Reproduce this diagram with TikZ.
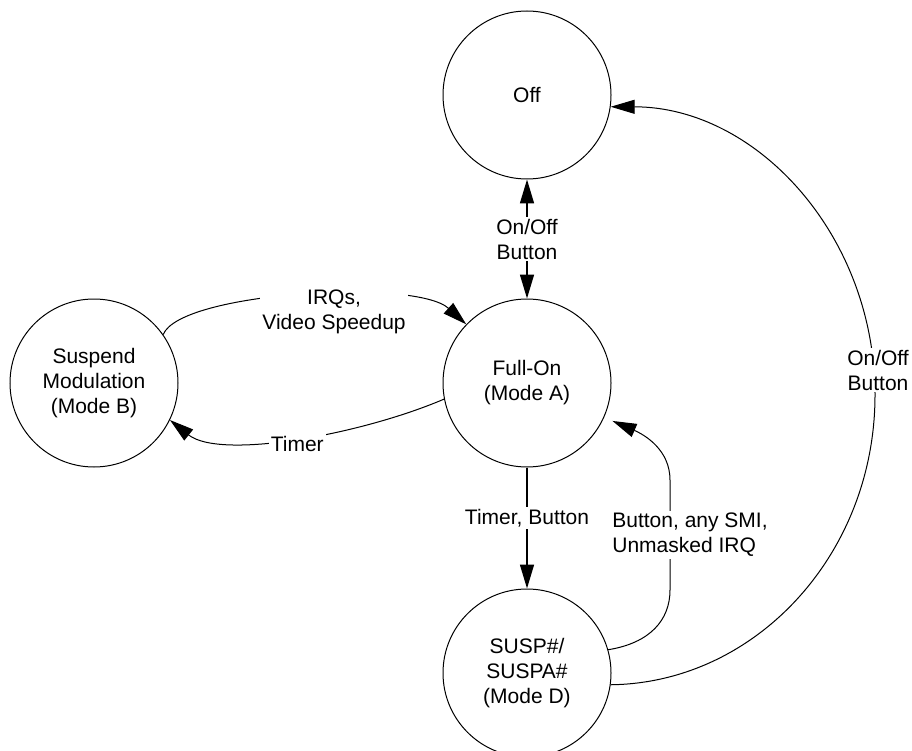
\documentclass[tikz,border=0pt]{standalone}
\usepackage{fontspec}
\setmainfont{Liberation Sans}
\usetikzlibrary{positioning, arrows.meta}

\begin{document}
\begin{tikzpicture}[x=1pt, y=-1pt, >={Triangle[length=24pt, width=14pt]}, line width=1pt,
    mode/.style={draw, circle, minimum size=168pt, inner sep=0pt, align=center, font=\fontsize{21}{25}\selectfont},
    lbl/.style={fill=white, inner sep=2pt, align=center, font=\fontsize{21}{25}\selectfont}]
        \useasboundingbox (0,0) rectangle (912,751);

        \node[mode] (off) at (527,95) {Off};
        \node[mode] (fo) [below=119pt of off] {Full-On\\(Mode A)};
        \node[mode] (sm) [left=264pt of fo] {Suspend\\Modulation\\(Mode B)};
        \node[mode] (su) [below=121pt of fo] {SUSP\#/\\SUSPA\#\\(Mode D)};

        \draw[<->, line width=1.6pt] (off) -- node[lbl] {On/Off\\Button} (fo);
        \draw[->, line width=1.6pt] (fo) -- node[lbl, pos=0.42] {Timer, Button} (su);

        \draw[->] (sm.35) .. controls (180,292) and (415,278) .. node[lbl, pos=0.55, xshift=12pt, yshift=-16pt] {IRQs,\\Video Speedup} (fo.136);
        \draw[->] (fo.191) .. controls (360,435) and (220,460) .. node[lbl, pos=0.5, xshift=3pt, yshift=-6pt] {Timer} (sm.-26);

        \draw[->, shorten >=9pt] (su.16) .. controls (650,643) and (670,620) .. (670,590)
          -- node[lbl, align=left, xshift=20pt] {Button, any SMI,\\Unmasked IRQ} (670,480)
          .. controls (670,450) and (645,435) .. (fo.-24);
        \draw[->] (su.-8) .. controls (756,683) and (875,554) .. (875,395)
          node[lbl, xshift=3pt, yshift=25pt] {On/Off\\Button}
          .. controls (875,236) and (757,107) .. (off.-8);
      \end{tikzpicture}
\end{document}
